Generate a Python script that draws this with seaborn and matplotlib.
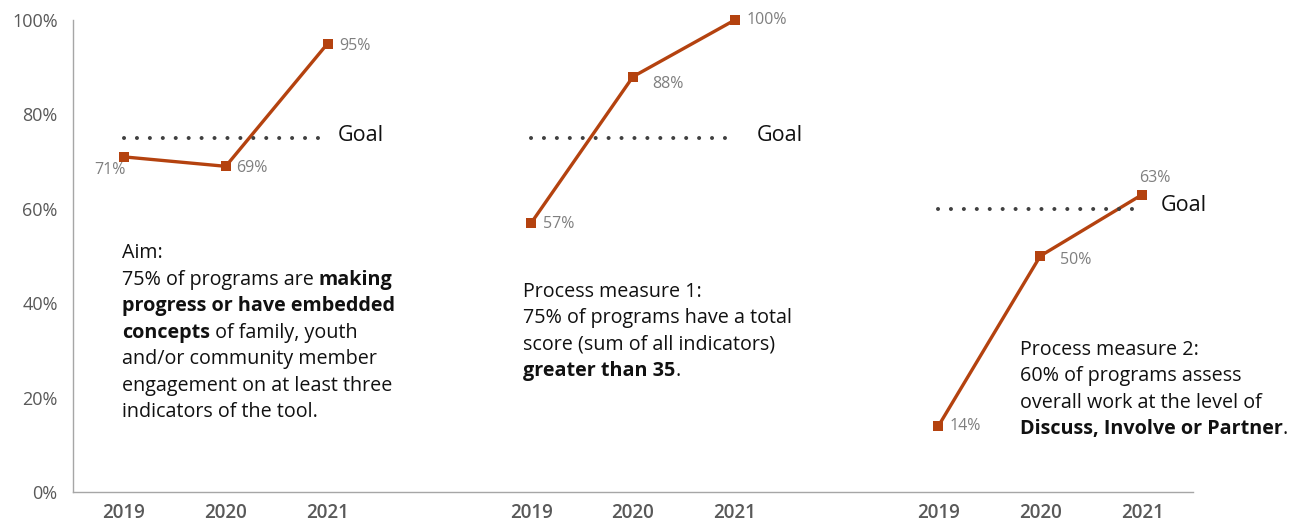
import matplotlib
matplotlib.use("Agg")
import matplotlib.pyplot as plt
import seaborn as sns
import pandas as pd

# ---------------- data ----------------
years = ["2019", "2020", "2021"]
aim_values = [71, 69, 95]
pm1_values = [57, 88, 100]
pm2_values = [14, 50, 63]
goals = [75, 75, 60]
value_labels = [["71%", "69%", "95%"], ["57%", "88%", "100%"], ["14%", "50%", "63%"]]
y_ticks = [0, 20, 40, 60, 80, 100]
y_tick_labels = ["0%", "20%", "40%", "60%", "80%", "100%"]

group_values = [aim_values, pm1_values, pm2_values]
group_names = ["Aim", "Process measure 1", "Process measure 2"]
positions = [[0, 1, 2], [4, 5, 6], [8, 9, 10]]

rows = []
for g, vals, pos in zip(group_names, group_values, positions):
    for p, y, v in zip(pos, years, vals):
        rows.append({"group": g, "pos": p, "year": y, "value": v})
df = pd.DataFrame(rows)

# ---------------- style ----------------
sns.set_theme(style="white")
FONT = ["Open Sans", "DejaVu Sans"]
plt.rcParams["font.family"] = FONT

LINE_C = "#B4420F"
LABEL_C = "#7F7F7F"
TICK_C = "#595959"
TEXT_C = "#111111"
GOAL_C = "#404040"

fig = plt.figure(figsize=(12.91, 5.25), dpi=100)
ax = fig.add_axes([73 / 1291, 33 / 525, 1120 / 1291, 472 / 525])

sns.lineplot(data=df, x="pos", y="value", units="group", estimator=None,
             color=LINE_C, lw=2.4, marker="s", markersize=6.5,
             markeredgewidth=0, ax=ax, clip_on=False, legend=False)

ax.set_xlim(-0.5, 10.5)
ax.set_ylim(0, 100)
ax.set_xlabel("")
ax.set_ylabel("")

all_pos = [p for pos in positions for p in pos]
ax.set_xticks(all_pos)
ax.set_xticklabels(years * 3, color=TICK_C, fontsize=13.5, fontweight="semibold")
ax.set_yticks(y_ticks)
ax.set_yticklabels(y_tick_labels, color=TICK_C, fontsize=13)
ax.tick_params(axis="x", length=0, pad=8)
ax.tick_params(axis="y", length=0, pad=11)

for s in ["top", "right"]:
    ax.spines[s].set_visible(False)
for s in ["left", "bottom"]:
    ax.spines[s].set_color("#A6A6A6")
    ax.spines[s].set_linewidth(1.0)

# goal lines
goal_text_dx = [0.1, 0.22, 0.18]
for pos, gval, dx in zip(positions, goals, goal_text_dx):
    ax.plot([pos[0], pos[-1]], [gval, gval], color=GOAL_C, lw=2.9,
            linestyle=(0, (0.01, 3.2)), dash_capstyle="round")
    ax.text(pos[-1] + dx, gval + 0.6, "Goal", color=TEXT_C, fontsize=15.5,
            fontweight="medium", va="center", ha="left")

# value labels (pixel offsets converted to points)
offsets = [[(-14, -13, "center"), (10, -2, "left"), (12, -2, "left")],
           [(12, -1, "left"), (19, -7, "left"), (12, 0, "left")],
           [(11, 0, "left"), (20, -4, "left"), (13, 17, "center")]]
for pos, vals, labs, offs in zip(positions, group_values, value_labels, offsets):
    for p, v, lab, (dx, dy, ha) in zip(pos, vals, labs, offs):
        ax.annotate(lab, (p, v), xytext=(dx * 0.72, dy * 0.72),
                    textcoords="offset points", ha=ha, va="center",
                    color=LABEL_C, fontsize=11.5)

# multi-run text blocks
def draw_runs(x, y, runs, size):
    prev = None
    for txt, bold in runs:
        w = "bold" if bold else "normal"
        if prev is None:
            prev = ax.text(x, y, txt, fontsize=size, fontweight=w, color=TEXT_C,
                           ha="left", va="center")
        else:
            prev = ax.annotate(txt, xy=(1, 0), xycoords=prev, xytext=(0, 0),
                               textcoords="offset points", ha="left", va="bottom",
                               fontsize=size, fontweight=w, color=TEXT_C)

def draw_block(x, y_top, lines, size, spacing):
    for i, runs in enumerate(lines):
        draw_runs(x, y_top - i * spacing, runs, size)

aim_lines = [
    [("Aim:", False)],
    [("75% of programs are ", False), ("making", True)],
    [("progress or have embedded", True)],
    [("concepts", True), (" of family, youth", False)],
    [("and/or community member", False)],
    [("engagement on at least three", False)],
    [("indicators of the tool.", False)],
]
pm1_lines = [
    [("Process measure 1:", False)],
    [("75% of programs have a total", False)],
    [("score (sum of all indicators)", False)],
    [("greater than 35", True), (".", False)],
]
pm2_lines = [
    [("Process measure 2:", False)],
    [("60% of programs assess", False)],
    [("overall work at the level of", False)],
    [("Discuss, Involve or Partner", True), (".", False)],
]
SP = 26.5 / 4.72
TS = 14.2
draw_block(-0.02, 50.6, aim_lines, TS, SP)
draw_block(3.92, 42.4, pm1_lines, TS, SP)
draw_block(8.80, 30.1, pm2_lines, TS, SP)

fig.savefig("out.png", dpi=100)
